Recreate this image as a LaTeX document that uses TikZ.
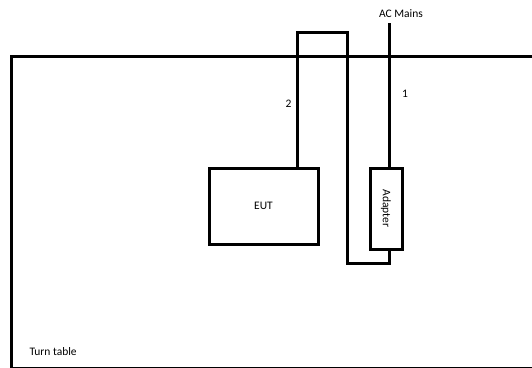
\documentclass[tikz,border=0pt]{standalone}
\usepackage{fontspec}
\setmainfont{Carlito}
\usetikzlibrary{positioning}

\begin{document}
\begin{tikzpicture}[x=1pt, y=-1pt, line width=3pt,
    unit/.style={draw, line width=3pt, inner sep=0pt, font=\fontsize{11.5}{13}\selectfont},
    lbl/.style={font=\fontsize{11.5}{13}\selectfont, inner sep=1pt}]
    \useasboundingbox (0,0) rectangle (532,367);
    % Turn table
    \draw (11,56) rectangle (540,368.1);
    \node[lbl, anchor=west] (tt) at (27,352) {Turn table};

    % EUT und Adapter
    \node[unit, minimum width=109pt, minimum height=76pt] (eut) at (263.5,206) {EUT};
    \node[unit, minimum width=32pt, minimum height=81pt] (ad) at (386,208.5)
        {\rotatebox{-90}{Adapter}};

    % Netzanschluss
    \node[lbl] (ac) at (401,14) {AC Mains};
    \coordinate (ac1) at (389.5,23);
    \draw (ac1) -- (ad.north -| ac1) node[lbl, pos=0.49, right=10pt] {1};

    % Kabel zum EUT
    \coordinate (k1) at (297,32);
    \coordinate (k2) at (347,32);
    \coordinate (k3) at (347,263);
    \draw (eut.north -| k1) -- (k1) node[lbl, pos=0.47, left=3pt] {2}
        -- (k2) -- (k3) -- (k3 -| ac1) -- (ad.south -| ac1);
\end{tikzpicture}
\end{document}
